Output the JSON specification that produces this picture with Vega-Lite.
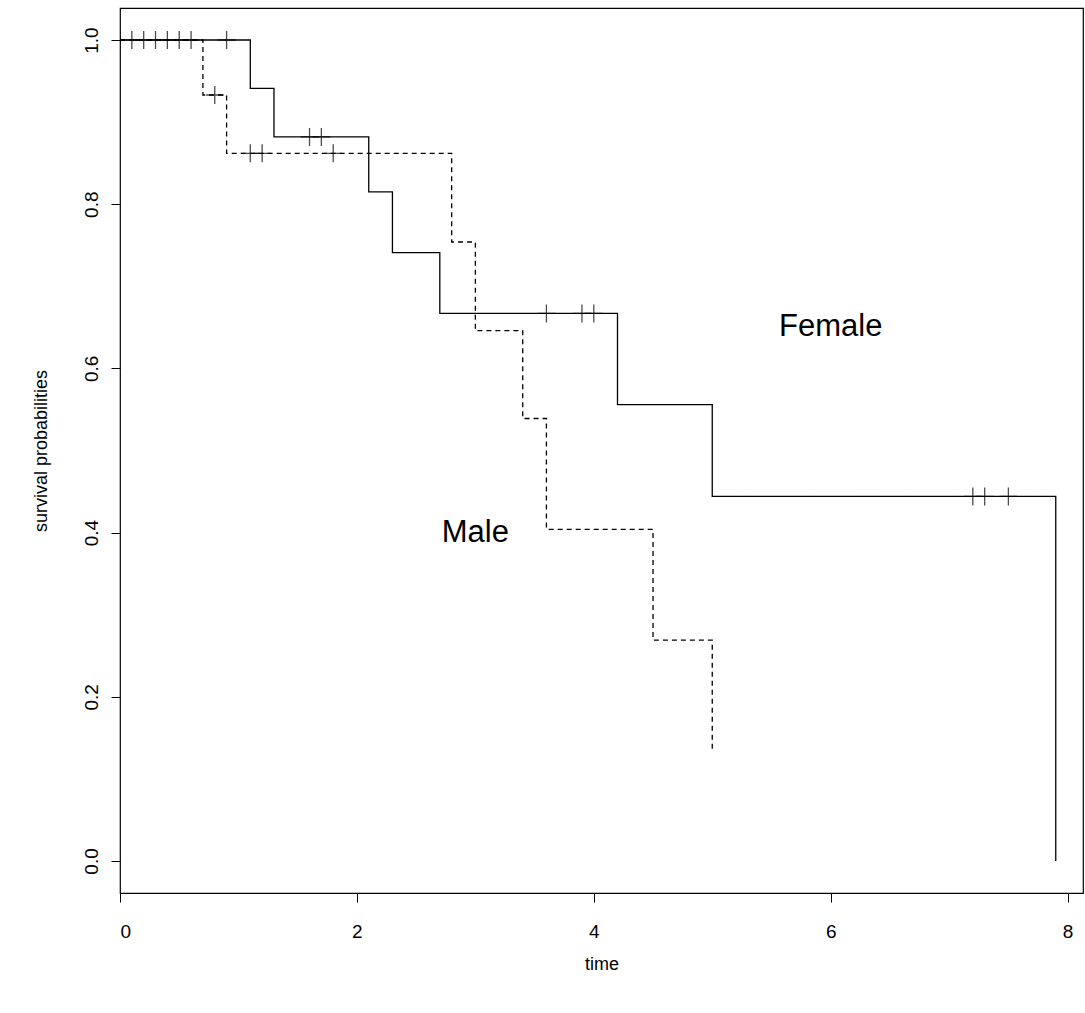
{
  "$schema": "https://vega.github.io/schema/vega-lite/v6.json",
  "autosize": "none",
  "width": 963,
  "height": 885,
  "padding": {"left": 120, "top": 8, "right": 2, "bottom": 120},
  "config": {
    "view": {"stroke": "black", "strokeWidth": 1.2},
    "font": "Liberation Sans",
    "axis": {"grid": false, "domain": false, "tickColor": "black", "tickSize": 9, "labelFontSize": 19, "labelColor": "black", "titleFontSize": 18, "titleFontWeight": "normal", "titleColor": "black"}
  },
  "datasets": {
    "curves": [
      {"time": 0, "surv": 1, "sex": "Female"},
      {"time": 1.1, "surv": 0.941, "sex": "Female"},
      {"time": 1.3, "surv": 0.882, "sex": "Female"},
      {"time": 2.1, "surv": 0.815, "sex": "Female"},
      {"time": 2.3, "surv": 0.741, "sex": "Female"},
      {"time": 2.7, "surv": 0.667, "sex": "Female"},
      {"time": 4.2, "surv": 0.556, "sex": "Female"},
      {"time": 5.0, "surv": 0.444, "sex": "Female"},
      {"time": 7.9, "surv": 0.444, "sex": "Female"},
      {"time": 7.9, "surv": 0, "sex": "Female"},
      {"time": 0, "surv": 1, "sex": "Male"},
      {"time": 0.7, "surv": 0.933, "sex": "Male"},
      {"time": 0.9, "surv": 0.862, "sex": "Male"},
      {"time": 2.8, "surv": 0.754, "sex": "Male"},
      {"time": 3.0, "surv": 0.646, "sex": "Male"},
      {"time": 3.4, "surv": 0.539, "sex": "Male"},
      {"time": 3.6, "surv": 0.404, "sex": "Male"},
      {"time": 4.5, "surv": 0.269, "sex": "Male"},
      {"time": 5.0, "surv": 0.269, "sex": "Male"},
      {"time": 5.0, "surv": 0.135, "sex": "Male"}
    ],
    "censor": [
      {"time": 0.1, "surv": 1}, {"time": 0.2, "surv": 1}, {"time": 0.3, "surv": 1},
      {"time": 0.4, "surv": 1}, {"time": 0.5, "surv": 1}, {"time": 0.6, "surv": 1},
      {"time": 0.9, "surv": 1}, {"time": 1.6, "surv": 0.882}, {"time": 1.7, "surv": 0.882},
      {"time": 3.6, "surv": 0.667}, {"time": 3.9, "surv": 0.667}, {"time": 4.0, "surv": 0.667},
      {"time": 7.2, "surv": 0.444}, {"time": 7.3, "surv": 0.444}, {"time": 7.5, "surv": 0.444},
      {"time": 0.8, "surv": 0.933}, {"time": 1.1, "surv": 0.862}, {"time": 1.2, "surv": 0.862},
      {"time": 1.8, "surv": 0.862}
    ],
    "labels": [
      {"time": 6.0, "surv": 0.65, "text": "Female"},
      {"time": 3.0, "surv": 0.40, "text": "Male"}
    ]
  },
  "encoding": {
    "x": {"field": "time", "type": "quantitative", "title": "time",
      "scale": {"domain": [0, 8.13], "nice": false, "zero": false},
      "axis": {"values": [0, 2, 4, 6, 8], "labelPadding": 20, "titlePadding": 14}},
    "y": {"field": "surv", "type": "quantitative", "title": "survival probabilities",
      "scale": {"domain": [-0.039, 1.039], "nice": false, "zero": false},
      "axis": {"values": [0, 0.2, 0.4, 0.6, 0.8, 1], "format": ".1f", "labelAngle": -90, "labelAlign": "center", "labelBaseline": "bottom", "labelPadding": 10, "titlePadding": 32}}
  },
  "layer": [
    {
      "data": {"name": "curves"},
      "mark": {"type": "line", "interpolate": "step-after", "color": "black", "strokeWidth": 1.3},
      "encoding": {
        "detail": {"field": "sex"},
        "strokeDash": {"field": "sex", "type": "nominal", "legend": null,
          "scale": {"domain": ["Female", "Male"], "range": [[1, 0], [5, 4]]}}
      }
    },
    {
      "data": {"name": "censor"},
      "mark": {"type": "point", "shape": "M-1,0L1,0M0,-1L0,1", "size": 324, "color": "black", "strokeWidth": 1.3, "filled": false}
    },
    {
      "data": {"name": "labels"},
      "mark": {"type": "text", "fontSize": 31, "color": "black", "align": "center", "baseline": "middle"},
      "encoding": {"text": {"field": "text"}}
    }
  ]
}
